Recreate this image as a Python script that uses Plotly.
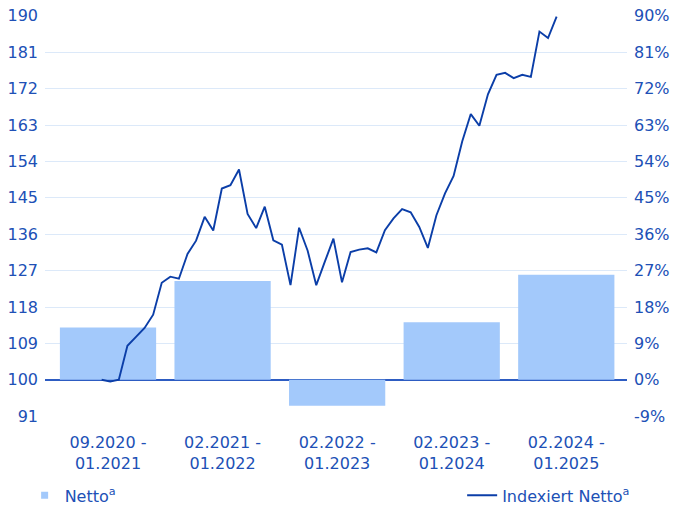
import plotly.graph_objects as go

# ---- data ----
categories = ["09.2020 -<br>01.2021", "02.2021 -<br>01.2022", "02.2022 -<br>01.2023",
              "02.2023 -<br>01.2024", "02.2024 -<br>01.2025"]
netto_pct = [12.9, 24.4, -6.4, 14.2, 26.0]

indexed_netto = [100.0, 99.55, 100.0, 108.4, 110.6, 112.8, 116.1, 124.0, 125.5, 125.0,
                 131.1, 134.4, 140.3, 136.9, 147.3, 148.1, 152.0, 141.0, 137.5, 142.8,
                 134.5, 133.4, 123.4, 137.6, 131.9, 123.4, 129.2, 134.9, 124.1, 131.6,
                 132.2, 132.5, 131.5, 137.0, 139.9, 142.2, 141.4, 137.8, 132.6, 140.7,
                 146.1, 150.4, 158.9, 165.7, 162.8, 170.6, 175.4, 175.9, 174.6, 175.4,
                 174.9, 186.1, 184.5, 189.8]
month_index = list(range(len(indexed_netto)))

left_ticks = [91, 100, 109, 118, 127, 136, 145, 154, 163, 172, 181, 190]
right_ticks = [-9, 0, 9, 18, 27, 36, 45, 54, 63, 72, 81, 90]
right_ticktext = [f"{v}%" for v in right_ticks]

TEXT = "#2050b6"
LINE = "#0b3ea8"
BAR = "#a3c9fb"
GRID = "#dce9f9"
FONT = "DejaVu Sans"
FS = 16

tf = dict(family=FONT, size=FS, color=TEXT)

fig = go.Figure()
# bars: x / y  (percent axis, drawn on the right)
fig.add_trace(go.Bar(
    x=list(range(len(categories))), y=netto_pct, name="Netto<sup>a</sup>",
    marker=dict(color=BAR, line=dict(width=0)), width=0.84,
    xaxis="x", yaxis="y", showlegend=False,
))
# legend entry for the bars (small square symbol)
fig.add_trace(go.Scatter(
    x=[None], y=[None], name="Netto<sup>a</sup>", mode="markers",
    marker=dict(symbol="square", size=7, color=BAR),
    xaxis="x", yaxis="y", legend="legend", showlegend=True,
))
# line: x2 / y2 (index axis, drawn on the left)
fig.add_trace(go.Scatter(
    x=month_index, y=indexed_netto, name="Indexiert Netto<sup>a</sup>",
    mode="lines", line=dict(color=LINE, width=1.9),
    xaxis="x2", yaxis="y2", legend="legend2", showlegend=True,
))

fig.update_layout(
    width=681, height=510, showlegend=True,
    margin=dict(l=45, r=54, t=15, b=93, autoexpand=False),
    paper_bgcolor="white", plot_bgcolor="white",
    font=tf,
    xaxis=dict(range=[-0.55, 4.53], tickvals=list(range(len(categories))),
               ticktext=categories, showgrid=False, zeroline=False,
               showline=False, ticks="", ticklabelstandoff=14, tickfont=tf),
    xaxis2=dict(range=[-6.6, 61.2], overlaying="x", anchor="y2", visible=False),
    yaxis=dict(range=[-9.2, 90.2], tickvals=right_ticks, ticktext=right_ticktext,
               side="right", showgrid=True, gridcolor=GRID, gridwidth=1,
               zeroline=True, zerolinecolor="#2d5cc2", zerolinewidth=1.5,
               showline=False, ticks="", ticklabelstandoff=6, tickfont=tf),
    yaxis2=dict(range=[90.8, 190.2], tickvals=left_ticks, overlaying="y",
                anchor="x", side="left", showgrid=False, zeroline=False,
                showline=False, ticks="", ticklabelstandoff=6, tickfont=tf),
    legend=dict(x=-0.035, xanchor="left", y=-0.195, yanchor="middle",
                orientation="h", font=tf, bgcolor="rgba(0,0,0,0)"),
    legend2=dict(x=1.014, xanchor="right", y=-0.195, yanchor="middle",
                 orientation="h", font=tf, bgcolor="rgba(0,0,0,0)"),
)

fig.write_html("out.html", config={"displayModeBar": False},
               post_script="document.body.style.margin='0';")
